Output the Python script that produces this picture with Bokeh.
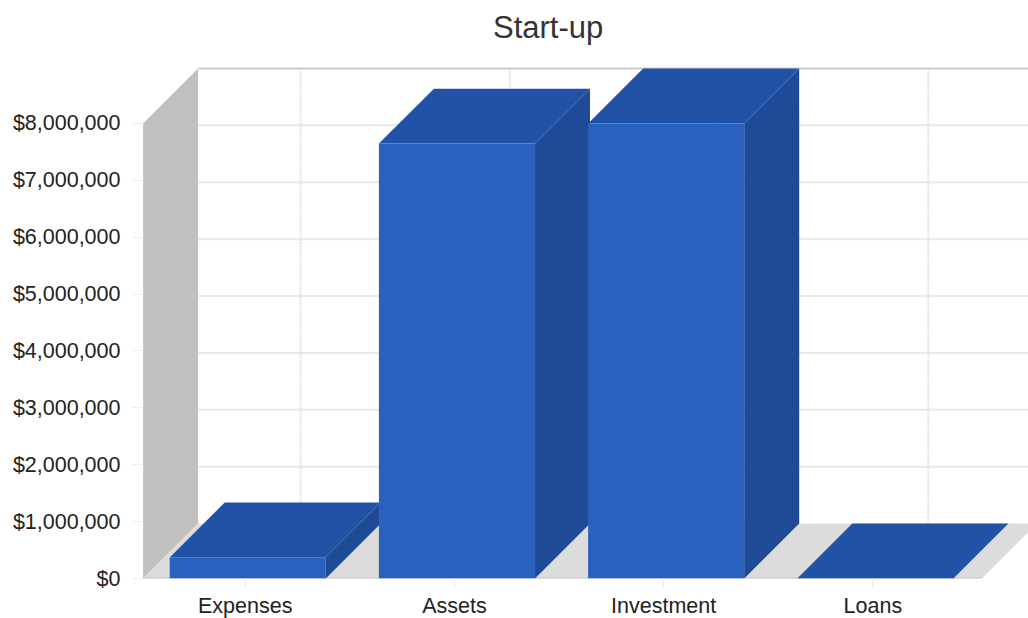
from bokeh.plotting import figure
from bokeh.embed import file_html
from bokeh.resources import INLINE
from bokeh.models import FixedTicker, Label, Range1d

chart_title = "Start-up"
categories = ["Expenses", "Assets", "Investment", "Loans"]
values = [370000, 7645000, 8000000, 0]
value_ticks = [0, 1000000, 2000000, 3000000, 4000000, 5000000, 6000000, 7000000, 8000000]
value_labels = ["$0", "$1,000,000", "$2,000,000", "$3,000,000", "$4,000,000",
                "$5,000,000", "$6,000,000", "$7,000,000", "$8,000,000"]

# Oblique projection: the back wall sits up and to the right of the front plane.
DEPTH_X = 0.263
DEPTH_Y = 966000
BAR_WIDTH = 0.746
X_START = -0.003
X_END = 4.232
Y_TOP = value_ticks[-1] + DEPTH_Y
# The frame reaches the top of the page so the heading can sit inside it.
Y_END = 10161000
FLOOR_END = len(categories) + 0.01
LABEL_NUDGE = -0.012
WALL_GRID_NUDGE = -0.01
TITLE_X = 1.936
TITLE_Y = 9687000

FRONT = "#2A60BE"
TOP = "#2252A6"
SIDE = "#1F4A96"
WALL = "#C0C0C0"
FLOOR = "#DCDCDC"
GRID = "#E9E9E9"

p = figure(
    frame_width=886, frame_height=578, width=1028, height=618,
    x_range=Range1d(X_START, X_END), y_range=Range1d(0, Y_END),
    output_backend="svg", toolbar_location=None,
    min_border_left=142, min_border_right=0, min_border_top=0, min_border_bottom=40,
    background_fill_color="white", border_fill_color="white",
)
p.outline_line_color = None
p.grid.visible = False

# Axes
p.yaxis.ticker = FixedTicker(ticks=value_ticks)
p.yaxis.major_label_overrides = dict(zip(value_ticks, value_labels))
tick_positions = [i + 0.5 + LABEL_NUDGE for i in range(len(categories))]
p.xaxis.ticker = FixedTicker(ticks=tick_positions)
p.xaxis.major_label_overrides = dict(zip(tick_positions, categories))
for ax in (p.xaxis[0], p.yaxis[0]):
    ax.axis_line_color = None
    ax.minor_tick_line_color = None
    ax.major_tick_line_color = "#EDEDED"
    ax.major_tick_out = 10
    ax.major_tick_in = 0
    ax.major_label_text_font = "Liberation Sans"
    ax.major_label_text_font_size = "21.5px"
    ax.major_label_text_color = "#222222"
p.yaxis[0].major_label_standoff = 12
p.xaxis[0].major_label_standoff = 5

# Side wall and floor of the chart box
p.patch([0, DEPTH_X, DEPTH_X, 0], [0, DEPTH_Y, Y_TOP, value_ticks[-1]],
        fill_color=WALL, line_color=None)
p.patch([0, DEPTH_X, FLOOR_END + DEPTH_X, FLOOR_END], [0, DEPTH_Y, DEPTH_Y, 0],
        fill_color=FLOOR, line_color=None)

# Gridlines on the back wall
for t in value_ticks[1:]:
    p.line([DEPTH_X, X_END], [t + DEPTH_Y, t + DEPTH_Y], line_color=GRID, line_width=2)
for i in range(len(categories)):
    x = i + 0.5 + DEPTH_X + WALL_GRID_NUDGE
    p.line([x, x], [DEPTH_Y, Y_TOP], line_color="#E2E2E2", line_width=2, line_dash="2 1")
p.line([DEPTH_X, X_END], [Y_TOP, Y_TOP], line_color="#C8C8C8", line_width=1.5)
p.line([0, FLOOR_END], [0, 0], line_color="#C4C4C4", line_width=2)

# Bars, left to right so each one overlaps the previous bar's side face
for i, v in enumerate(values):
    x0 = i + 0.5 - BAR_WIDTH / 2
    x1 = i + 0.5 + BAR_WIDTH / 2
    p.patch([x1, x1 + DEPTH_X, x1 + DEPTH_X, x1], [0, DEPTH_Y, v + DEPTH_Y, v],
            fill_color=SIDE, line_color=None)
    p.patch([x0, x1, x1 + DEPTH_X, x0 + DEPTH_X], [v, v, v + DEPTH_Y, v + DEPTH_Y],
            fill_color=TOP, line_color=None)
    if v > 0:
        p.quad(left=x0, right=x1, bottom=0, top=v, fill_color=FRONT, line_color=None)

p.add_layout(Label(x=TITLE_X, y=TITLE_Y, text=chart_title, text_align="center",
                   text_baseline="middle", text_font="Liberation Sans",
                   text_font_size="31px", text_color="#333333"))

open("out.html", "w").write(file_html(p, INLINE))
